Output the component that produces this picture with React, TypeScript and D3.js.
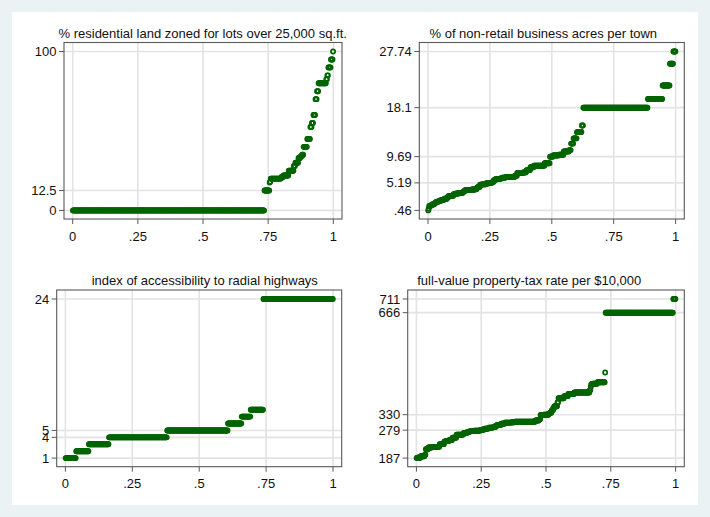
import React from "react";
import * as d3 from "d3";

// ---- data: value / count tables ----
const znValues = [0, 12.5, 17.5, 18, 20, 21, 22, 25, 28, 30, 33, 34, 35, 40, 45, 52.5, 55, 60, 70, 75, 80, 82.5, 85, 90, 95, 100];
const znCounts = [372, 10, 1, 1, 21, 4, 10, 10, 3, 6, 4, 3, 3, 7, 6, 3, 3, 4, 3, 3, 15, 2, 2, 5, 4, 1];
const znTicks = [0, 12.5, 100];

const indusValues = [0.46, 0.74, 1.21, 1.22, 1.25, 1.32, 1.38, 1.47, 1.52, 1.69, 1.76, 1.89, 1.91, 2.01, 2.02, 2.03, 2.18, 2.24, 2.25, 2.31, 2.46, 2.68, 2.89, 2.93, 2.95, 2.97, 3.24, 3.33, 3.37, 3.41, 3.44, 3.64, 3.75, 3.78, 3.97, 4.0, 4.05, 4.15, 4.39, 4.49, 4.86, 4.93, 4.95, 5.13, 5.19, 5.32, 5.64, 5.86, 5.96, 6.06, 6.07, 6.09, 6.2, 6.41, 6.91, 6.96, 7.07, 7.38, 7.87, 8.14, 8.56, 9.69, 9.9, 10.01, 10.59, 10.81, 11.93, 12.83, 13.89, 13.92, 15.04, 18.1, 19.58, 21.89, 25.65, 27.74];
const indusCounts = [1, 1, 1, 1, 2, 1, 1, 2, 3, 2, 1, 1, 3, 1, 1, 2, 4, 3, 1, 1, 6, 2, 5, 2, 2, 2, 3, 4, 2, 4, 6, 2, 1, 2, 12, 2, 7, 3, 2, 4, 4, 6, 3, 6, 6, 3, 4, 10, 3, 2, 3, 3, 18, 5, 12, 5, 2, 8, 7, 22, 11, 6, 12, 10, 11, 4, 5, 7, 4, 6, 3, 132, 30, 15, 7, 5];
const indusTicks = [0.46, 5.19, 9.69, 18.1, 27.74];
const indusTickLabels = [".46", "5.19", "9.69", "18.1", "27.74"];

const radValues = [1, 2, 3, 4, 5, 6, 7, 8, 24];
const radCounts = [20, 24, 38, 110, 115, 26, 17, 24, 132];
const radTicks = [1, 4, 5, 24];

const taxValues = [187, 188, 193, 198, 216, 222, 223, 224, 233, 241, 242, 243, 247, 254, 264, 265, 270, 273, 276, 277, 279, 280, 281, 284, 285, 287, 289, 293, 296, 300, 304, 305, 307, 311, 313, 315, 329, 330, 334, 335, 337, 345, 352, 358, 370, 384, 391, 398, 403, 411, 422, 430, 432, 437, 469, 666, 711];
const taxCounts = [1, 7, 8, 2, 5, 7, 5, 10, 9, 1, 2, 7, 6, 8, 12, 2, 7, 5, 9, 11, 4, 1, 4, 7, 1, 8, 5, 3, 8, 7, 14, 6, 40, 7, 1, 2, 6, 10, 2, 2, 2, 3, 2, 6, 2, 11, 8, 12, 30, 2, 1, 3, 9, 15, 1, 132, 5];
const taxTicks = [187, 279, 330, 666, 711];

const xTicks = [0, 0.25, 0.5, 0.75, 1];
const xTickLabels = ["0", ".25", ".5", ".75", "1"];

const titles = [
  "% residential land zoned for lots over 25,000 sq.ft.",
  "% of non-retail business acres per town",
  "index of accessibility to radial highways",
  "full-value property-tax rate per $10,000",
];

// ---- layout ----
const W = 710;
const H = 517;
const FONT = "'Liberation Sans', Arial, sans-serif";
const GREEN = "#006400";

type Panel = {
  values: number[];
  counts: number[];
  ticks: number[];
  tickLabels?: string[];
  title: string;
  l: number; r: number; t: number; b: number;
  titleX: number; titleY: number;
};

const panels: Panel[] = [
  { values: znValues, counts: znCounts, ticks: znTicks, title: titles[0], l: 64, r: 342, t: 42.5, b: 219, titleX: 202.7, titleY: 37.8 },
  { values: indusValues, counts: indusCounts, ticks: indusTicks, tickLabels: indusTickLabels, title: titles[1], l: 419.3, r: 684.3, t: 42.5, b: 219, titleX: 543.3, titleY: 37.8 },
  { values: radValues, counts: radCounts, ticks: radTicks, title: titles[2], l: 56.7, r: 341.7, t: 290, b: 466.7, titleX: 204.8, titleY: 285.3 },
  { values: taxValues, counts: taxCounts, ticks: taxTicks, title: titles[3], l: 407.7, r: 684.3, t: 290, b: 466.7, titleX: 529.2, titleY: 285.3 },
];

function expand(values: number[], counts: number[]) {
  const out: number[] = [];
  values.forEach((v, i) => {
    for (let k = 0; k < counts[i]; k++) out.push(v);
  });
  out.sort((a, b) => a - b);
  const n = out.length;
  return out.map((v, i) => ({ q: (i + 0.5) / n, v }));
}

function PanelView({ p }: { p: Panel }) {
  const pts = expand(p.values, p.counts);
  const ext = d3.extent(p.values) as [number, number];
  const x = d3.scaleLinear().domain([0, 1]).range([p.l + 8.7, p.r - 8.7]);
  const y = d3.scaleLinear().domain(ext).range([p.b - 8.6, p.t + 9]);
  const fmt = (v: number, i: number) => (p.tickLabels ? p.tickLabels[i] : String(v));
  return (
    <g>
      {/* gridlines */}
      {xTicks.map((t) => (
        <line key={"gx" + t} x1={x(t)} x2={x(t)} y1={p.t} y2={p.b} stroke="#e3e3e3" strokeWidth={1.6} />
      ))}
      {p.ticks.map((t) => (
        <line key={"gy" + t} x1={p.l} x2={p.r} y1={y(t)} y2={y(t)} stroke="#e3e3e3" strokeWidth={1.6} />
      ))}
      {/* points */}
      {pts.map((d, i) => (
        <circle key={i} cx={x(d.q)} cy={y(d.v)} r={2.1} fill="none" stroke={GREEN} strokeWidth={1.7} />
      ))}
      {/* frame */}
      <rect x={p.l} y={p.t} width={p.r - p.l} height={p.b - p.t} fill="none" stroke="#595959" strokeWidth={1.1} />
      {/* x axis */}
      {xTicks.map((t, i) => (
        <g key={"xt" + t}>
          <line x1={x(t)} x2={x(t)} y1={p.b} y2={p.b + 5} stroke="#595959" strokeWidth={1} />
          <text x={x(t)} y={p.b + 21.5} textAnchor="middle" fontSize={13} fontFamily={FONT} fill="#111">
            {xTickLabels[i]}
          </text>
        </g>
      ))}
      {/* y axis */}
      {p.ticks.map((t, i) => (
        <g key={"yt" + t}>
          <line x1={p.l - 5} x2={p.l} y1={y(t)} y2={y(t)} stroke="#595959" strokeWidth={1} />
          <text x={p.l - 7.5} y={y(t) + 4.6} textAnchor="end" fontSize={13} fontFamily={FONT} fill="#111">
            {fmt(t, i)}
          </text>
        </g>
      ))}
      {/* title */}
      <text x={p.titleX} y={p.titleY} textAnchor="middle" fontSize={13} fontFamily={FONT} fill="#111">
        {p.title}
      </text>
    </g>
  );
}

export default function App() {
  return (
    <svg width={W} height={H} style={{ display: "block", position: "absolute", left: 0, top: 0 }}>
      <rect x={0} y={0} width={W} height={H} fill="#eaf2f3" />
      <rect x={12} y={12} width={686} height={493} fill="#ffffff" />
      {panels.map((p, i) => (
        <PanelView key={i} p={p} />
      ))}
    </svg>
  );
}
